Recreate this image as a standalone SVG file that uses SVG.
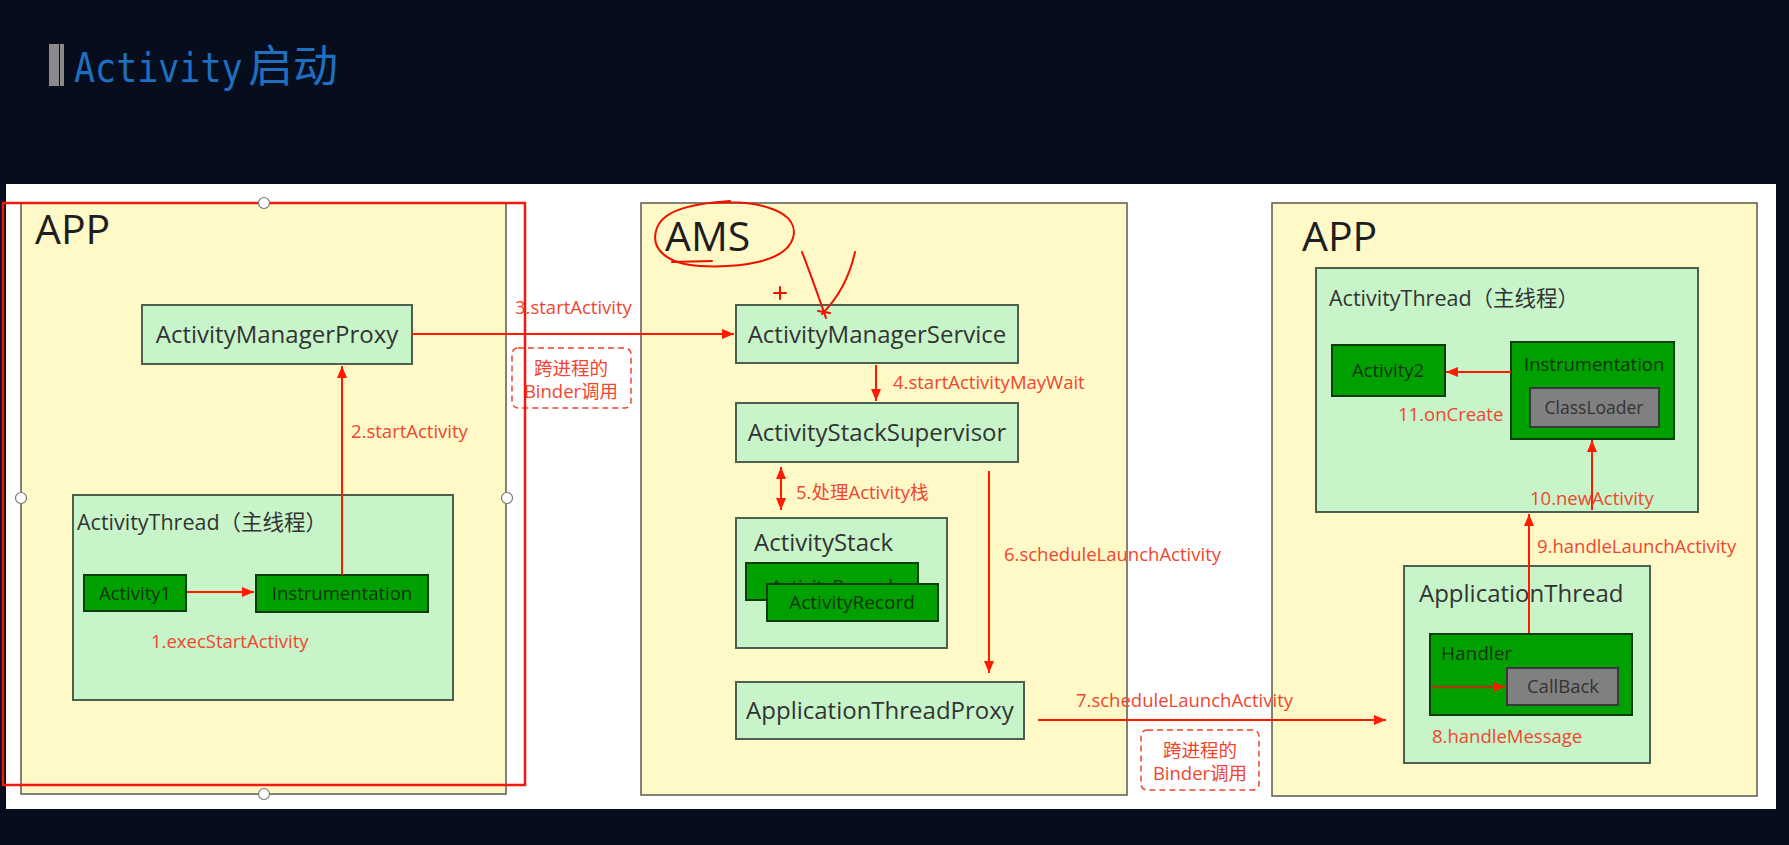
<svg xmlns="http://www.w3.org/2000/svg" width="1789" height="845" viewBox="0 0 1789 845">
<defs>
<style>
.t{font-family:"Open Sans","Noto Sans CJK SC",sans-serif}
.panel{fill:#fff9c8;stroke:#5a5a50;stroke-width:1.5}
.lg{fill:#c7f5c9;stroke:#4f5f4f;stroke-width:2}
.dg{fill:#00a000;stroke:#0d3d0d;stroke-width:2}
.gr{fill:#808080;stroke:#3a3a3a;stroke-width:2}
.big{font-size:41px;fill:#1e1e1e}
.nt{font-size:24px;fill:#333}
.st{font-size:18.5px;fill:#0d350d}
.lbl{font-size:18.5px;fill:#f0462f}
.con{stroke:#ff1a00;stroke-width:2;fill:none}
.dash{fill:none;stroke:#f0462f;stroke-width:1.5;stroke-dasharray:6 4}
.hand{fill:none;stroke:#ee1100;stroke-width:2;stroke-linecap:round}
.hdl{fill:#fff;stroke:#777;stroke-width:1.2}
</style>
<marker id="ah" markerUnits="userSpaceOnUse" markerWidth="13" markerHeight="11" refX="12" refY="5" orient="auto-start-reverse" viewBox="0 0 13 11">
<path d="M0,0 L12,5 L0,10 z" fill="#ff1a00"/>
</marker>
</defs>
<rect x="0" y="0" width="1789" height="845" fill="#060d1c"/>
<g id="title">
<rect x="49" y="44" width="10" height="42" fill="#8a8a8a"/>
<rect x="60" y="44" width="4" height="42" fill="#8a8a8a"/>
<text transform="translate(74,82) scale(1,1.15)" font-family="'DejaVu Sans Mono',monospace" font-size="35" fill="#1f6fc0">Activity</text>
<text x="248" y="82" font-family="'Noto Sans CJK SC',sans-serif" font-size="44" fill="#1f6fc0" textLength="90" lengthAdjust="spacingAndGlyphs">启动</text>
</g>
<rect x="6" y="184" width="1770" height="625" fill="#ffffff"/>

<g id="app-left">
<rect class="panel" x="21" y="203" width="485" height="591"/>
<text class="t big" x="35" y="244">APP</text>
</g>
<g id="activity-manager-proxy">
<rect class="lg" x="142" y="305" width="270" height="59"/>
<text class="t nt" x="277" y="343" text-anchor="middle">ActivityManagerProxy</text>
</g>
<g id="activity-thread-left">
<rect class="lg" x="73" y="495" width="380" height="205"/>
<text class="t" x="77" y="530" font-size="21.5" fill="#333">ActivityThread（主线程）</text>
</g>
<g id="activity1">
<rect class="dg" x="84" y="575" width="102" height="36"/>
<text class="t st" x="135" y="600" text-anchor="middle">Activity1</text>
</g>
<g id="instrumentation-left">
<rect class="dg" x="256" y="575" width="172" height="37"/>
<text class="t st" x="342" y="600" text-anchor="middle">Instrumentation</text>
</g>

<g id="ams">
<rect class="panel" x="641" y="203" width="486" height="592"/>
<text class="t big" x="665" y="251">AMS</text>
</g>
<g id="activity-manager-service">
<rect class="lg" x="736" y="305" width="282" height="58"/>
<text class="t nt" x="877" y="343" text-anchor="middle">ActivityManagerService</text>
</g>
<g id="activity-stack-supervisor">
<rect class="lg" x="736" y="403" width="282" height="59"/>
<text class="t nt" x="877" y="441" text-anchor="middle">ActivityStackSupervisor</text>
</g>
<g id="activity-stack">
<rect class="lg" x="736" y="518" width="211" height="130"/>
<text class="t" x="754" y="551" font-size="24" fill="#333">ActivityStack</text>
</g>
<g id="activity-record-back">
<rect class="dg" x="746" y="563" width="172" height="37"/>
<text class="t st" x="832" y="593" text-anchor="middle">ActivityRecord</text>
</g>
<g id="activity-record-front">
<rect class="dg" x="767" y="584" width="171" height="37"/>
<text class="t" x="852" y="609" font-size="19" fill="#0d350d" text-anchor="middle">ActivityRecord</text>
</g>
<g id="application-thread-proxy">
<rect class="lg" x="736" y="682" width="288" height="57"/>
<text class="t nt" x="880" y="719" text-anchor="middle">ApplicationThreadProxy</text>
</g>

<g id="app-right">
<rect class="panel" x="1272" y="203" width="485" height="593"/>
<text class="t big" x="1302" y="251">APP</text>
</g>
<g id="activity-thread-right">
<rect class="lg" x="1316" y="268" width="382" height="244"/>
<text class="t" x="1329" y="306" font-size="21.5" fill="#333">ActivityThread（主线程）</text>
</g>
<g id="activity2">
<rect class="dg" x="1332" y="345" width="113" height="51"/>
<text class="t st" x="1388" y="377" text-anchor="middle">Activity2</text>
</g>
<g id="instrumentation-right">
<rect class="dg" x="1511" y="342" width="163" height="97"/>
<text class="t st" x="1524" y="371">Instrumentation</text>
</g>
<g id="classloader">
<rect class="gr" x="1530" y="388" width="129" height="39"/>
<text class="t" x="1594" y="414" font-size="17.5" fill="#333" text-anchor="middle">ClassLoader</text>
</g>
<g id="application-thread">
<rect class="lg" x="1404" y="566" width="246" height="197"/>
<text class="t" x="1419" y="602" font-size="24" fill="#333">ApplicationThread</text>
</g>
<g id="handler">
<rect class="dg" x="1430" y="634" width="202" height="81"/>
<text class="t" x="1441" y="660" font-size="19" fill="#0d350d">Handler</text>
</g>
<g id="callback">
<rect class="gr" x="1507" y="668" width="111" height="37"/>
<text class="t" x="1563" y="693" font-size="18.5" fill="#333" text-anchor="middle">CallBack</text>
</g>

<g id="connectors">
<line class="con" x1="187" y1="592" x2="254" y2="592" marker-end="url(#ah)"/>
<line class="con" x1="342" y1="575" x2="342" y2="366" marker-end="url(#ah)"/>
<line class="con" x1="412" y1="334" x2="734" y2="334" marker-end="url(#ah)"/>
<line class="con" x1="876" y1="365" x2="876" y2="401" marker-end="url(#ah)"/>
<line class="con" x1="781" y1="467" x2="781" y2="510" marker-start="url(#ah)" marker-end="url(#ah)"/>
<line class="con" x1="989" y1="471" x2="989" y2="673" marker-end="url(#ah)"/>
<line class="con" x1="1038" y1="720" x2="1386" y2="720" marker-end="url(#ah)"/>
<line x1="1432" y1="687" x2="1505" y2="687" stroke="#a33a10" stroke-width="2.5" marker-end="url(#ah)"/>
<line class="con" x1="1529" y1="633" x2="1529" y2="514" marker-end="url(#ah)"/>
<line class="con" x1="1592" y1="510" x2="1592" y2="440" marker-end="url(#ah)"/>
<line class="con" x1="1511" y1="372" x2="1446" y2="372" marker-end="url(#ah)"/>
</g>

<g id="labels">
<text class="t lbl" x="151" y="648" font-size="17.5">1.execStartActivity</text>
<text class="t lbl" x="351" y="438" font-size="17.5">2.startActivity</text>
<text class="t lbl" x="515" y="314" font-size="17.5">3.startActivity</text>
<text class="t lbl" x="893" y="389" font-size="17.8">4.startActivityMayWait</text>
<text class="t lbl" x="796" y="499" font-size="17.5">5.处理Activity栈</text>
<text class="t lbl" x="1004" y="561">6.scheduleLaunchActivity</text>
<text class="t lbl" x="1076" y="707">7.scheduleLaunchActivity</text>
<text class="t lbl" x="1432" y="743">8.handleMessage</text>
<text class="t lbl" x="1537" y="553">9.handleLaunchActivity</text>
<text class="t lbl" x="1530" y="505">10.newActivity</text>
<text class="t lbl" x="1398" y="421">11.onCreate</text>
</g>

<g id="binder-note-1">
<rect class="dash" x="512" y="348" width="119" height="60" rx="6"/>
<text class="t lbl" x="571" y="375" font-size="17" text-anchor="middle">跨进程的</text>
<text class="t lbl" x="571" y="398" font-size="17" text-anchor="middle">Binder调用</text>
</g>
<g id="binder-note-2">
<rect class="dash" x="1141" y="730" width="118" height="60" rx="6"/>
<text class="t lbl" x="1200" y="757" font-size="17" text-anchor="middle">跨进程的</text>
<text class="t lbl" x="1200" y="780" font-size="17" text-anchor="middle">Binder调用</text>
</g>

<g id="selection">
<rect x="3" y="203" width="522" height="582" fill="none" stroke="#ee1a10" stroke-width="2.5"/>
<circle class="hdl" cx="264" cy="203" r="5.5"/>
<circle class="hdl" cx="21" cy="498" r="5.5"/>
<circle class="hdl" cx="507" cy="498" r="5.5"/>
<circle class="hdl" cx="264" cy="794" r="5.5"/>
</g>

<g id="annotations">
<path class="hand" d="M712,203 C765,199 800,214 793,238 C786,262 740,268 700,266 C668,264 651,250 656,231 C660,213 684,204 730,201"/>
<path class="hand" d="M672,262 L712,261"/>
<path class="hand" d="M802,252 C811,275 819,298 826,318"/>
<path class="hand" d="M855,252 C849,279 836,300 822,314"/>
<path class="hand" d="M818,311 L830,313"/>
<path class="hand" d="M774,293 H786 M780,287 V299"/>
</g>
</svg>
